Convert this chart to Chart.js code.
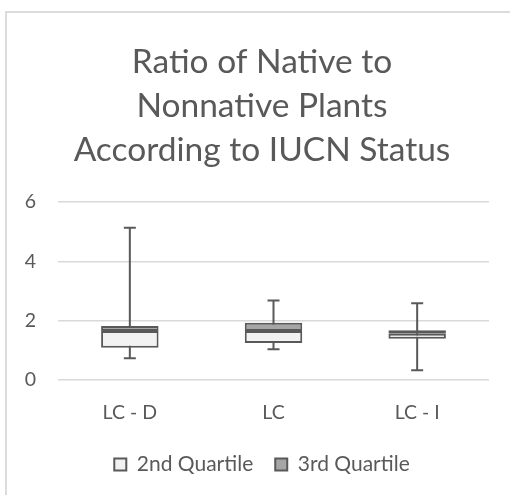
<!DOCTYPE html>
<html>
<head>
<meta charset="utf-8">
<script src="https://cdn.jsdelivr.net/npm/chart.js@4"></script>
<style>
  html, body { margin: 0; padding: 0; background: #fff; overflow: hidden; }
  #wrap { position: relative; width: 510px; height: 495px; }
  #frame { position: absolute; left: 5px; top: 11px; width: 600px; height: 600px;
           border-left: 2px solid #dcdcdc; border-top: 2px solid #dcdcdc; pointer-events: none; }
</style>
</head>
<body>
<div id="wrap">
  <canvas id="chart-1" width="510" height="495"></canvas>
  <div id="frame"></div>
</div>
<script>
// box plot values
const categories = ['LC - D', 'LC', 'LC - I'];
const whiskerMin = [0.73, 1.04, 0.33];
const quartile1 = [1.09, 1.25, 1.39];
const median = [1.65, 1.65, 1.56];
const quartile3 = [1.82, 1.93, 1.68];
const whiskerMax = [5.13, 2.68, 2.59];
const yTicks = [0, 2, 4, 6];

const FONT = 'Lato';
const GREY = '#595959';

// whiskers go under the boxes
const whiskers = {
  id: 'whiskers',
  beforeDatasetsDraw(chart) {
    const ctx = chart.ctx;
    const x = chart.scales.x, y = chart.scales.y;
    ctx.save();
    ctx.strokeStyle = GREY;
    ctx.lineWidth = 2;
    categories.forEach(function (c, i) {
      const cx = x.getPixelForValue(i);
      const top = y.getPixelForValue(whiskerMax[i]);
      const bot = y.getPixelForValue(whiskerMin[i]);
      ctx.beginPath();
      ctx.moveTo(cx, top); ctx.lineTo(cx, bot);
      ctx.moveTo(cx - 6, top); ctx.lineTo(cx + 6, top);
      ctx.moveTo(cx - 6, bot); ctx.lineTo(cx + 6, bot);
      ctx.stroke();
    });
    ctx.restore();
  }
};

const ctx1 = document.getElementById('chart-1').getContext('2d');
const myChart1 = new Chart(ctx1, {
  type: 'bar',
  data: {
    labels: categories,
    datasets: [{
      label: '2nd Quartile',
      data: categories.map(function (c, i) { return [quartile1[i], median[i]]; }),
      backgroundColor: '#f2f2f2',
      borderColor: GREY,
      borderWidth: 2,
      borderSkipped: false,
      grouped: false,
      barPercentage: 0.4,
      categoryPercentage: 1
    }, {
      label: '3rd Quartile',
      data: categories.map(function (c, i) { return [median[i], quartile3[i]]; }),
      backgroundColor: '#a6a6a6',
      borderColor: GREY,
      borderWidth: 2,
      borderSkipped: false,
      grouped: false,
      barPercentage: 0.4,
      categoryPercentage: 1
    }]
  },
  options: {
    responsive: false,
    animation: false,
    layout: { padding: { left: 14, right: 0, top: 0, bottom: 10 } },
    scales: {
      x: {
        grid: { display: false, drawTicks: false },
        border: { display: false },
        ticks: { color: GREY, font: { family: FONT, size: 19.5 }, padding: 21 },
        afterFit: function (s) { s.height = 52; }
      },
      y: {
        min: 0,
        max: 6,
        afterBuildTicks: function (s) { s.ticks = yTicks.map(function (v) { return { value: v }; }); },
        grid: { color: '#d9d9d9', lineWidth: 1.5, drawTicks: false },
        border: { display: false },
        ticks: { color: GREY, font: { family: FONT, size: 19.5 }, padding: 22 },
        afterFit: function (s) { s.width = 44; }
      },
      yR: {
        position: 'right',
        grid: { display: false },
        border: { display: false },
        ticks: { display: false },
        afterFit: function (s) { s.width = 21; }
      }
    },
    plugins: {
      title: {
        display: true,
        text: ['Ratio of Native to', 'Nonnative Plants', 'According to IUCN Status'],
        color: GREY,
        font: { family: FONT, size: 33.5, weight: 'normal', lineHeight: 1.313 },
        padding: { top: 40, bottom: 30 }
      },
      legend: {
        position: 'bottom',
        labels: {
          color: GREY,
          font: { family: FONT, size: 21 },
          boxWidth: 12,
          boxHeight: 12,
          padding: 22
        }
      },
      tooltip: { enabled: false }
    }
  },
  plugins: [whiskers]
});
</script>
</body>
</html>
